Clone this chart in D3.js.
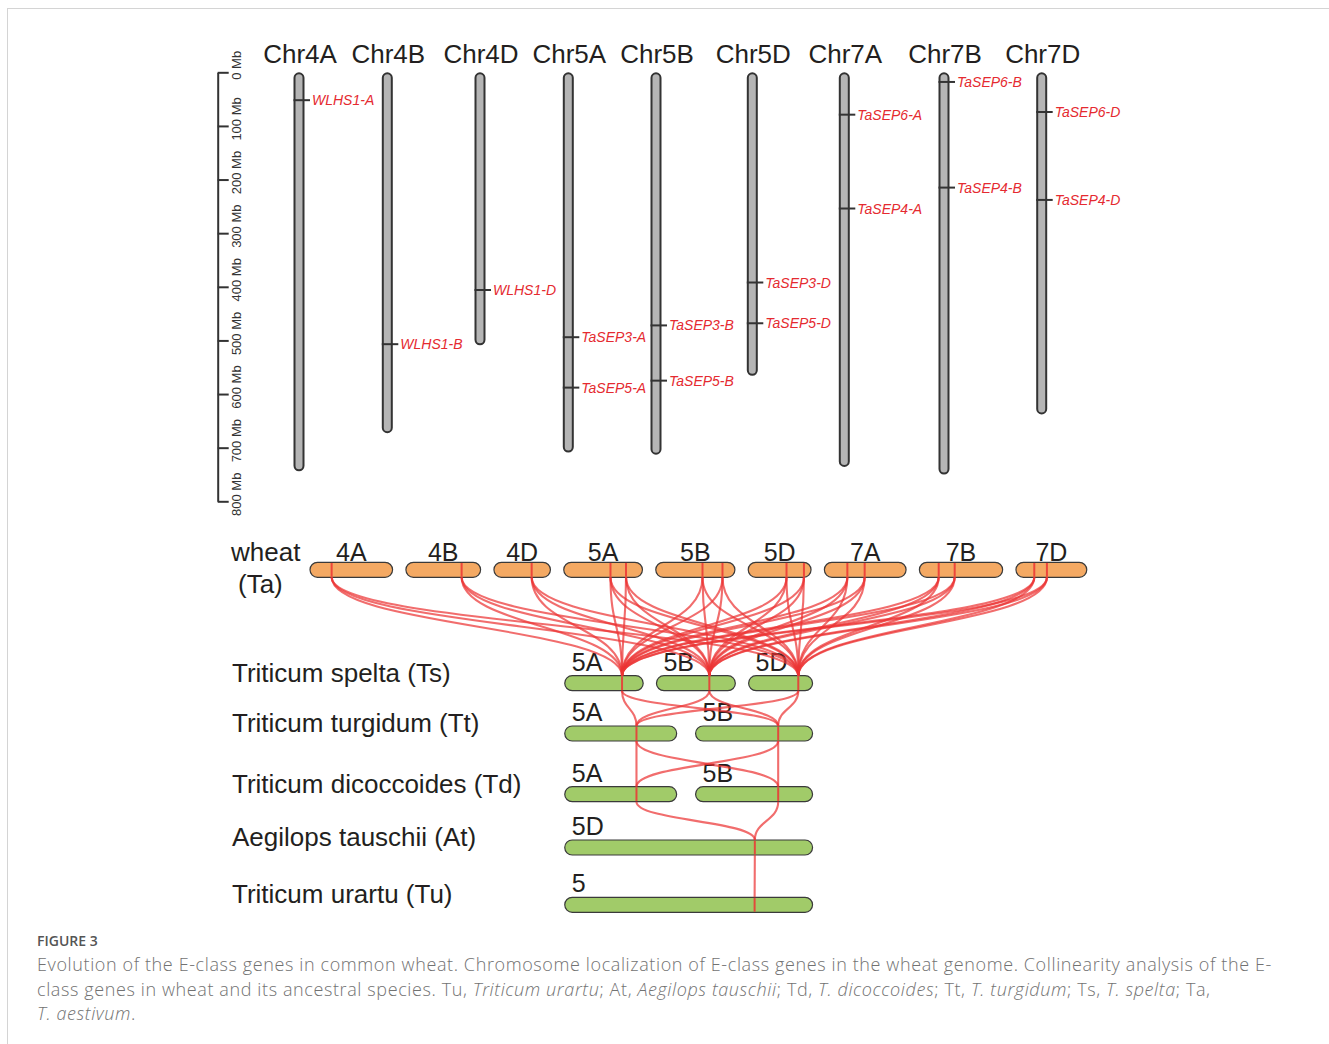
<!DOCTYPE html>
<html>
<head>
<meta charset="utf-8">
<script src="https://cdn.jsdelivr.net/npm/d3@7"></script>
<style>
  html, body { margin: 0; padding: 0; background: #fff; }
  svg { display: block; }
</style>
</head>
<body>
<svg id="fig" width="1329" height="1044"></svg>
<script>
// ---- Chromosome localization (physical map, Mb) ----
const chromosomes   = ["Chr4A", "Chr4B", "Chr4D", "Chr5A", "Chr5B", "Chr5D", "Chr7A", "Chr7B", "Chr7D"];
const chromLengthMb = [744, 673, 509, 709, 713, 566, 736, 750, 638];
const axisTicksMb   = [0, 100, 200, 300, 400, 500, 600, 700, 800];

const geneNames = ["WLHS1-A", "WLHS1-B", "WLHS1-D",
                   "TaSEP3-A", "TaSEP5-A", "TaSEP3-B", "TaSEP5-B", "TaSEP3-D", "TaSEP5-D",
                   "TaSEP6-A", "TaSEP4-A", "TaSEP6-B", "TaSEP4-B", "TaSEP6-D", "TaSEP4-D"];
const geneChrom = ["Chr4A", "Chr4B", "Chr4D",
                   "Chr5A", "Chr5A", "Chr5B", "Chr5B", "Chr5D", "Chr5D",
                   "Chr7A", "Chr7A", "Chr7B", "Chr7B", "Chr7D", "Chr7D"];
const genePosMb = [52, 507, 406, 494, 588, 472, 575, 392, 468, 79, 254, 18, 215, 74, 238];

// ---- Collinearity: wheat (Ta) and its ancestral species ----
const wheatChroms      = ["4A", "4B", "4D", "5A", "5B", "5D", "7A", "7B", "7D"];
const wheatGeneChrom   = ["4A", "4B", "4D", "5A", "5A", "5B", "5B", "5D", "5D", "7A", "7A", "7B", "7B", "7D", "7D"];
const wheatGenePosMb   = [195, 502, 340, 421, 561, 421, 601, 345, 502, 207, 363, 174, 318, 165, 279];

const speciesCodes   = ["Ts", "Tt", "Td", "At", "Tu"];
const speciesNames   = ["Triticum spelta (Ts)", "Triticum turgidum (Tt)", "Triticum dicoccoides (Td)",
                        "Aegilops tauschii (At)", "Triticum urartu (Tu)"];
const speciesChroms  = [["5A", "5B", "5D"], ["5A", "5B"], ["5A", "5B"], ["5D"], ["5"]];
const speciesChromMb = [[709, 713, 578], [710, 742], [710, 742], [571], [710]];
const speciesGeneMb  = [[518, 478, 449], [455, 524], [455, 524], [438], [544]];

// ---------------------------------------------------------------
const svg = d3.select("#fig");
const FONT = "'Liberation Sans', Arial, Helvetica, sans-serif";
const INK = "#231f20";
const GENE_RED = "#e52a30";
const LINK_RED = "#ec3434";
const BIG = 26;

// page frame
svg.append("line").attr("x1", 7).attr("x2", 1329).attr("y1", 8.5).attr("y2", 8.5)
  .attr("stroke", "#d4d4d4").attr("stroke-width", 1);
svg.append("line").attr("x1", 7.5).attr("x2", 7.5).attr("y1", 8).attr("y2", 1044)
  .attr("stroke", "#d4d4d4").attr("stroke-width", 1);

// ================= Physical map =================
const yMb = d3.scaleLinear().domain([0, 800]).range([72.3, 501.3]);
const colX = d3.scaleOrdinal().domain(chromosomes)
  .range([299, 387.3, 480, 568.3, 656, 752.3, 844.3, 944, 1041.7]);

// Mb ruler
const ruler = svg.append("g").attr("transform", "translate(217.7,0)")
  .call(d3.axisRight(yMb).tickValues(axisTicksMb).tickSize(11).tickSizeOuter(0)
        .tickFormat(d => d + " Mb"));
ruler.select(".domain").attr("stroke", "#333").attr("stroke-width", 2);
ruler.selectAll(".tick line").attr("stroke", "#333").attr("stroke-width", 2);
ruler.selectAll(".tick text")
  .attr("transform", "rotate(-90)")
  .attr("x", 7.5).attr("y", 23).attr("dy", 0)
  .attr("text-anchor", "middle")
  .attr("font-family", FONT).attr("font-size", 13).attr("fill", "#333");

const chromData = chromosomes.map((c, i) => ({ name: c, len: chromLengthMb[i] }));

svg.append("g").selectAll("text").data(chromData).join("text")
  .attr("x", d => colX(d.name) + 1).attr("y", 63)
  .attr("text-anchor", "middle")
  .attr("font-family", FONT).attr("font-size", BIG).attr("fill", INK)
  .text(d => d.name);

svg.append("g").selectAll("rect").data(chromData).join("rect")
  .attr("x", d => colX(d.name) - 4.5)
  .attr("y", yMb(0) + 1)
  .attr("width", 9)
  .attr("height", d => yMb(d.len) - yMb(0) - 2)
  .attr("rx", 4.5).attr("ry", 4.5)
  .attr("fill", "#b5b5b5").attr("stroke", "#333").attr("stroke-width", 2);

const geneData = geneNames.map((g, i) => ({ name: g, chrom: geneChrom[i], pos: genePosMb[i] }));
const geneG = svg.append("g");
geneG.selectAll("line").data(geneData).join("line")
  .attr("x1", d => colX(d.chrom) - 5.5).attr("x2", d => colX(d.chrom) + 11)
  .attr("y1", d => yMb(d.pos)).attr("y2", d => yMb(d.pos))
  .attr("stroke", "#333").attr("stroke-width", 2);
geneG.selectAll("text").data(geneData).join("text")
  .attr("x", d => colX(d.chrom) + 13).attr("y", d => yMb(d.pos) + 5)
  .attr("font-family", FONT).attr("font-size", 14).attr("font-style", "italic")
  .attr("fill", GENE_RED)
  .text(d => d.name);

// ================= Collinearity =================
const GAP_MB = 120;         // spacing between neighbouring bars, in Mb units
const BAR_H = 15;
const rowTop = { Ta: 562.3, Ts: 675.7, Tt: 726, Td: 786.7, At: 840, Tu: 897.3 };

// lay out a row of bars end to end along a linear scale
function layoutRow(names, lens, range) {
  let off = 0;
  const bars = names.map((n, i) => {
    const b = { name: n, start: off, len: lens[i] };
    off += lens[i] + GAP_MB;
    return b;
  });
  const total = off - GAP_MB;
  const x = d3.scaleLinear().domain([0, total]).range(range);
  bars.forEach(b => { b.x0 = x(b.start); b.x1 = x(b.start + b.len); });
  return bars;
}

const wheatTotal = d3.sum(chromLengthMb) + GAP_MB * (chromLengthMb.length - 1);
const xTa = d3.scaleLinear().domain([0, wheatTotal]).range([310, 310 + wheatTotal * 0.111]);
const taBars = layoutRow(wheatChroms, chromLengthMb, xTa.range());

// ancestral rows share the span of wheat 5A..5D
const b5A = taBars.find(b => b.name === "5A");
const b5D = taBars.find(b => b.name === "5D");
const lowerRange = [b5A.x0 + 1, b5D.x1 + 1.5];

const rows = [{ code: "Ta", bars: taBars, color: "#f4a963" }];
speciesCodes.forEach((s, i) => {
  rows.push({ code: s, name: speciesNames[i],
              bars: layoutRow(speciesChroms[i], speciesChromMb[i], lowerRange),
              color: "#a1cb69" });
});

// gene anchors for each row
function geneX(bar, mb) { return bar.x0 + (bar.x1 - bar.x0) * mb / bar.len; }
rows[0].genes = wheatGeneChrom.map((c, i) => {
  const bar = taBars.find(b => b.name === c);
  return { bar, x: geneX(bar, wheatGenePosMb[i]) };
});
speciesCodes.forEach((s, i) => {
  rows[i + 1].genes = rows[i + 1].bars.map((bar, j) => ({ bar, x: geneX(bar, speciesGeneMb[i][j]) }));
});

// links between consecutive rows (every gene pair)
const links = [];
for (let r = 0; r < rows.length - 1; r++) {
  const yA = rowTop[rows[r].code] + BAR_H, yB = rowTop[rows[r + 1].code];
  rows[r].genes.forEach(g1 => rows[r + 1].genes.forEach(g2 => {
    links.push({ x1: g1.x, y1: yA, x2: g2.x, y2: yB });
  }));
}

// bars
rows.forEach(row => {
  const g = svg.append("g");
  g.selectAll("rect").data(row.bars).join("rect")
    .attr("x", d => d.x0).attr("y", rowTop[row.code])
    .attr("width", d => d.x1 - d.x0).attr("height", BAR_H)
    .attr("rx", BAR_H / 2).attr("ry", BAR_H / 2)
    .attr("fill", row.color).attr("stroke", "#3a3a3a").attr("stroke-width", 1.2);
  g.selectAll("line").data(row.genes).join("line")
    .attr("x1", d => d.x).attr("x2", d => d.x)
    .attr("y1", rowTop[row.code] + 0.6).attr("y2", rowTop[row.code] + BAR_H - 0.6)
    .attr("stroke", LINK_RED).attr("stroke-opacity", 0.85).attr("stroke-width", 2);
  g.selectAll("text").data(row.bars).join("text")
    .attr("x", d => row.code === "Ta" ? (d.x0 + d.x1) / 2 : d.x0 + 7)
    .attr("y", rowTop[row.code] - (row.code === "Ta" ? 1.5 : 5))
    .attr("text-anchor", row.code === "Ta" ? "middle" : "start")
    .attr("font-family", FONT).attr("font-size", BIG - 1).attr("fill", INK)
    .text(d => d.name);
  if (row.name) {
    svg.append("text").attr("x", 232).attr("y", rowTop[row.code] + BAR_H / 2 - 1.5)
      .attr("font-family", FONT).attr("font-size", BIG).attr("fill", INK)
      .text(row.name);
  }
});

svg.append("text").attr("x", 231).attr("y", 561)
  .attr("font-family", FONT).attr("font-size", BIG).attr("fill", INK).text("wheat");
svg.append("text").attr("x", 238).attr("y", 593)
  .attr("font-family", FONT).attr("font-size", BIG).attr("fill", INK).text("(Ta)");

// curved links with vertical tangents
svg.append("g").selectAll("path").data(links).join("path")
  .attr("d", d => {
    const p = d3.path();
    const ym = (d.y1 + d.y2) / 2;
    p.moveTo(d.x1, d.y1);
    p.bezierCurveTo(d.x1, ym, d.x2, ym, d.x2, d.y2);
    return p.toString();
  })
  .attr("fill", "none").attr("stroke", LINK_RED)
  .attr("stroke-opacity", 0.72).attr("stroke-width", 2.1);

// ================= Caption =================
const CAP_FONT = "'Open Sans', 'Noto Sans', sans-serif";
svg.append("text").attr("x", 37).attr("y", 946)
  .attr("font-family", CAP_FONT).attr("font-size", 14).attr("font-weight", 600)
  .attr("fill", "#555").text("FIGURE 3");

const captionLines = [
  [["Evolution of the E-class genes in common wheat. Chromosome localization of E-class genes in the wheat genome. Collinearity analysis of the E-", false]],
  [["class genes in wheat and its ancestral species. Tu, ", false], ["Triticum urartu", true], ["; At, ", false],
   ["Aegilops tauschii", true], ["; Td, ", false], ["T. dicoccoides", true], ["; Tt, ", false],
   ["T. turgidum", true], ["; Ts, ", false], ["T. spelta", true], ["; Ta,", false]],
  [["T. aestivum", true], [".", false]]
];
const capTexts = captionLines.map((parts, i) => {
  const t = svg.append("text").attr("x", 37).attr("y", 971 + i * 24.5)
    .attr("font-family", CAP_FONT).attr("font-size", 18).attr("font-weight", 300)
    .attr("fill", "#727272");
  parts.forEach(([s, it]) => t.append("tspan").attr("font-style", it ? "italic" : "normal").text(s));
  return t;
});
// widen the caption tracking so the first line fills the text column
const natural = capTexts[0].node().getComputedTextLength();
const nChars = captionLines[0][0][0].length;
const spacing = Math.max(0, (1235 - natural) / nChars);
capTexts.forEach(t => t.attr("letter-spacing", spacing.toFixed(2)));
</script>
</body>
</html>
